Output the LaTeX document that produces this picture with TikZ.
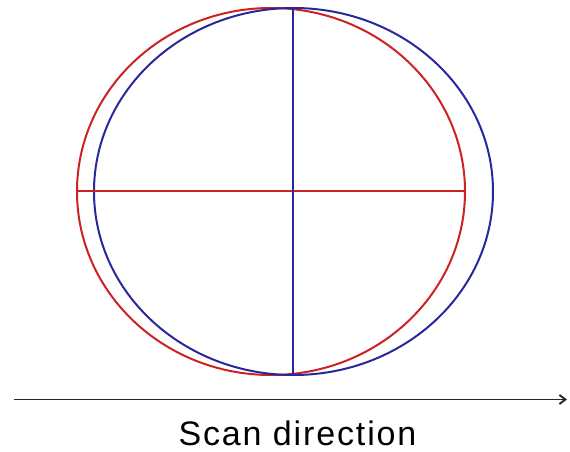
\documentclass[tikz,border=0pt]{standalone}
\usepackage{fontspec}
\setmainfont{Liberation Sans}
\usetikzlibrary{arrows.meta}
\definecolor{cred}{RGB}{204,34,34}
\definecolor{cblue}{RGB}{40,40,155}
\begin{document}
\begin{tikzpicture}[x=1pt,y=-1pt,
  redline/.style={draw=cred,line width=2pt},
  blueline/.style={draw=cblue,line width=2pt},
  scanarrow/.style={draw=black!85,line width=1.9pt,-{Straight Barb[length=6pt,width=9pt]}}]
\useasboundingbox (0,0) rectangle (570,452);
\coordinate (rc) at (271,191.5);
\coordinate (bc) at (293.5,191.5);
\draw[redline] (rc) ellipse [x radius=194, y radius=183.5];
\draw[blueline] (bc) ellipse [x radius=199.5, y radius=183.5];
\coordinate (rl) at (77,191);
\coordinate (rr) at (465,191);
\draw[redline] (rl) -- (rr);
\coordinate (bt) at (293,8);
\coordinate (bb) at (293,375);
\draw[blueline] (bt) -- (bb);
\coordinate (as) at (14,399.5);
\coordinate (ae) at (567,399.5);
\draw[scanarrow] (as) -- (ae);
\node[anchor=base,font=\fontsize{34}{40}\selectfont\addfontfeatures{LetterSpace=5.5},inner sep=0pt] (lbl) at (297.5,445) {Scan direction};
\end{tikzpicture}
\end{document}
